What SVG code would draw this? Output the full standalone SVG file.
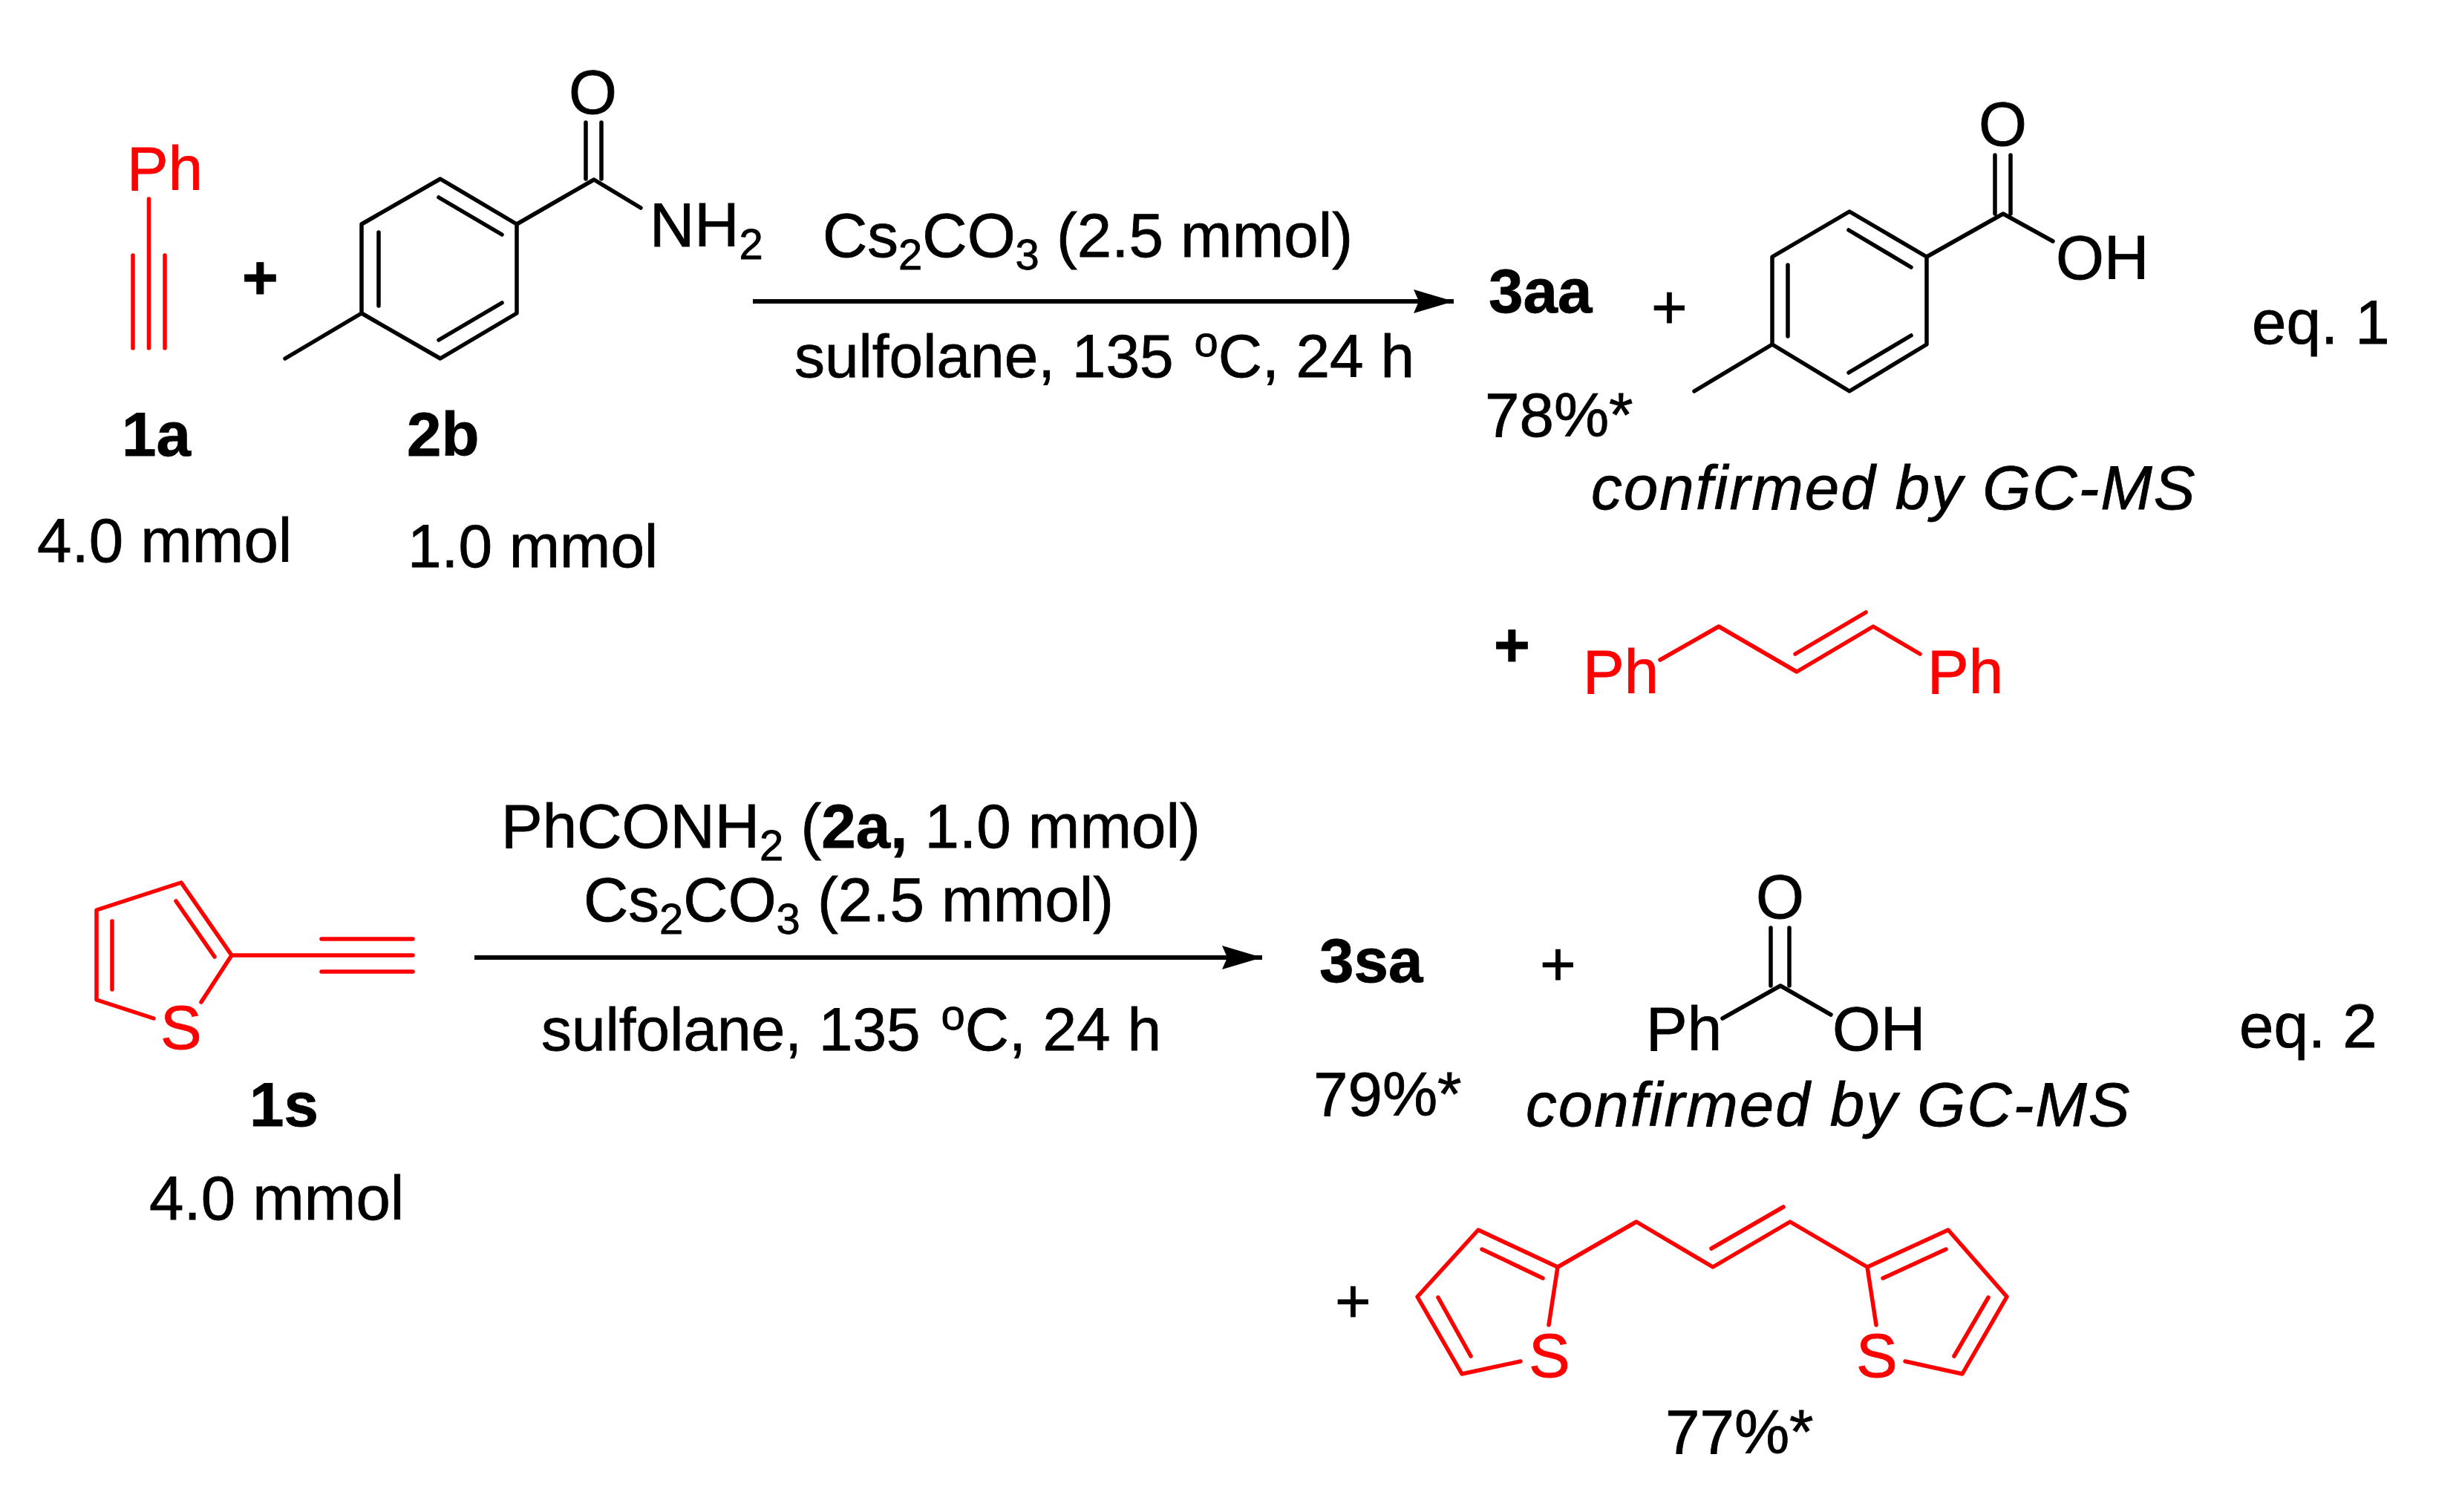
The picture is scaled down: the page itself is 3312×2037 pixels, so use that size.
<svg xmlns="http://www.w3.org/2000/svg" width="3312" height="2037" viewBox="0 0 3312 2037">
<style>
text{font-family:"Liberation Sans",Arial,sans-serif;font-size:83.500px;fill:#000;stroke:#000;stroke-width:.8}
text.r{fill:#f00;stroke:#f00}
text.m{font-size:82px}
.b{font-weight:700}
.i{font-style:italic;letter-spacing:2px}
.s{font-size:58px}
.k,.e{fill:none;stroke-width:5.500;stroke-linecap:round;stroke-linejoin:round}
.k{stroke:#000}
.e{stroke:#f00}
.a{fill:none;stroke:#000;stroke-width:6}
</style>
<defs>
<marker id="ah" markerUnits="userSpaceOnUse" markerWidth="60" markerHeight="36" refX="54" refY="18" orient="auto">
<path d="M0 2L54 18L0 34L7 18Z" fill="#000"/>
</marker>
</defs>
<rect width="3312" height="2037" fill="#fff"/>
<g id="connectors">
<path class="a" d="M1014 406H1958" marker-end="url(#ah)"/>
<path class="a" d="M639 1290H1700" marker-end="url(#ah)"/>
</g>
<g id="reactant-1a">
<text class="r" x="171" y="256">Ph</text>
<path class="e" d="M200.500 268V469M179 344V469M222 344V469"/>
<text class="b" x="164" y="614">1a</text>
<text x="50" y="757">4.0 mmol</text>
</g>
<text id="plus-1" class="b" x="326" y="403">+</text>
<g id="reactant-2b">
<path class="k" d="M593 241L696 302V422L593 483L487 422V302ZM591 266L676 316M510 313V412M591 458L676 408M487 422L384 483M696 302L800 242L863 280M789 165V241M810 165V241"/>
<text x="766" y="153">O</text>
<text x="875" y="332">NH<tspan class="s" dy="17">2</tspan></text>
<text class="b" x="548" y="614">2b</text>
<text class="m" x="549" y="764">1.0 mmol</text>
</g>
<g id="conditions-1">
<text x="1108" y="346">Cs<tspan class="s" dy="17">2</tspan><tspan dy="-17">CO</tspan><tspan class="s" dy="17">3</tspan><tspan dy="-17"> (2.5 mmol)</tspan></text>
<text class="m" x="1070" y="508">sulfolane, 135 <tspan class="s" dx="5" dy="-28">o</tspan><tspan dy="28">C, 24 h</tspan></text>
</g>
<g id="product-3aa">
<text class="b" x="2005" y="421">3aa</text>
<text x="2000" y="588">78%*</text>
</g>
<text id="plus-2" x="2224" y="442">+</text>
<g id="acid-1">
<path class="k" d="M2491 285L2595 346V464L2491 527L2387 464V346ZM2490 310L2574 360M2408 357V453M2490 502L2574 452M2387 464L2282 527M2595 346L2698 288L2765 325M2687 209V288M2708 209V288"/>
<text x="2665" y="196">O</text>
<text x="2769" y="376">OH</text>
<text class="i" x="2143" y="686">confirmed by GC-MS</text>
</g>
<text id="eq-1" x="3033" y="463">eq. 1</text>
<text id="plus-3" class="b" x="2012" y="898">+</text>
<g id="diene-1">
<text class="r" x="2132" y="934">Ph</text>
<text class="r" x="2596" y="934">Ph</text>
<path class="e" d="M2236 889L2315 844L2420 905L2523 844L2586 881M2418 881L2513 825"/>
</g>
<g id="reactant-1s">
<path class="e" d="M207 1372L130 1347V1226L244 1189L312 1287L271 1350M237 1214L289 1289M151 1241V1333M312 1287H556M433 1265H556M433 1309H556"/>
<text class="r" x="216" y="1413">S</text>
<text class="b" x="336" y="1517">1s</text>
<text x="201" y="1643">4.0 mmol</text>
</g>
<g id="conditions-2">
<text x="675" y="1142">PhCONH<tspan class="s" dy="17">2</tspan><tspan dy="-17"> (</tspan><tspan class="b">2a,</tspan><tspan> 1.0 mmol)</tspan></text>
<text x="786" y="1241">Cs<tspan class="s" dy="17">2</tspan><tspan dy="-17">CO</tspan><tspan class="s" dy="17">3</tspan><tspan dy="-17"> (2.5 mmol)</tspan></text>
<text class="m" x="729" y="1415">sulfolane, 135 <tspan class="s" dx="5" dy="-28">o</tspan><tspan dy="28">C, 24 h</tspan></text>
</g>
<g id="product-3sa">
<text class="b" x="1777" y="1323">3sa</text>
<text x="1769" y="1503">79%*</text>
</g>
<text id="plus-4" x="2074" y="1327">+</text>
<g id="acid-2">
<path class="k" d="M2320 1372L2398 1328L2466 1367M2385 1250V1328M2410 1250V1328"/>
<text x="2365" y="1237">O</text>
<text x="2217" y="1415">Ph</text>
<text x="2468" y="1415">OH</text>
<text class="i" x="2055" y="1517">confirmed by GC-MS</text>
</g>
<text id="eq-2" x="3016" y="1411">eq. 2</text>
<text id="plus-5" x="1798" y="1781">+</text>
<g id="diene-2">
<path class="e" d="M2086 1785L2098 1707L1991 1657L1909 1747L1969 1851L2048 1834M1996 1683L2078 1722M1937 1748L1981 1827M2098 1707L2204 1646L2307 1707L2411 1646L2515 1707L2527 1785M2305 1682L2402 1626M2515 1707L2624 1657L2703 1747L2643 1851L2566 1834M2536 1722L2621 1683M2678 1748L2632 1827"/>
<text class="r" x="2059" y="1855">S</text>
<text class="r" x="2500" y="1855">S</text>
<text x="2243" y="1958">77%*</text>
</g>
</svg>
